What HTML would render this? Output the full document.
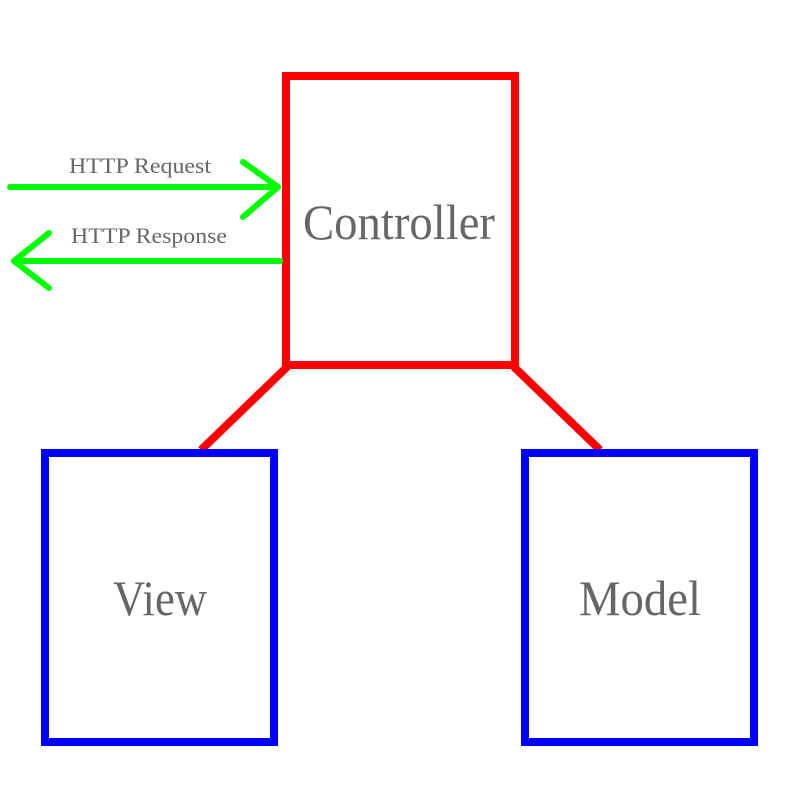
<!DOCTYPE html>
<html><head><style>html,body{margin:0;padding:0;background:#fff}</style></head>
<body>
<svg width="800" height="800" xmlns="http://www.w3.org/2000/svg" style="display:block">
<rect x="0" y="0" width="800" height="800" fill="#fff"/>
<g fill="none" stroke="#ff0000" stroke-width="8">
<rect x="286" y="76" width="229" height="289"/>
<line x1="288" y1="366" x2="201" y2="450"/>
<line x1="513" y1="366" x2="600" y2="450"/>
</g>
<g fill="none" stroke="#0000ff" stroke-width="8">
<rect x="45" y="453" width="229" height="289"/>
<rect x="525" y="453" width="229" height="289"/>
</g>
<g fill="none" stroke="#00ff00" stroke-width="6" stroke-linecap="round" stroke-linejoin="round">
<line x1="10" y1="187" x2="278" y2="187"/>
<polyline points="243,162 278,187 243,217"/>
<line x1="14" y1="261" x2="280" y2="261"/>
<polyline points="49,233 14,261 49,288"/>
</g>
<g font-family="Liberation Serif, serif" fill="#666" text-anchor="middle">
<text x="140" y="173" font-size="22" textLength="142" lengthAdjust="spacingAndGlyphs">HTTP Request</text>
<text x="149" y="243" font-size="22" textLength="156" lengthAdjust="spacingAndGlyphs">HTTP Response</text>
<text x="399" y="239" font-size="50" textLength="192" lengthAdjust="spacingAndGlyphs">Controller</text>
<text x="160" y="615" font-size="50" textLength="94" lengthAdjust="spacingAndGlyphs">View</text>
<text x="640" y="615" font-size="50" textLength="122" lengthAdjust="spacingAndGlyphs">Model</text>
</g>
</svg>
</body></html>
